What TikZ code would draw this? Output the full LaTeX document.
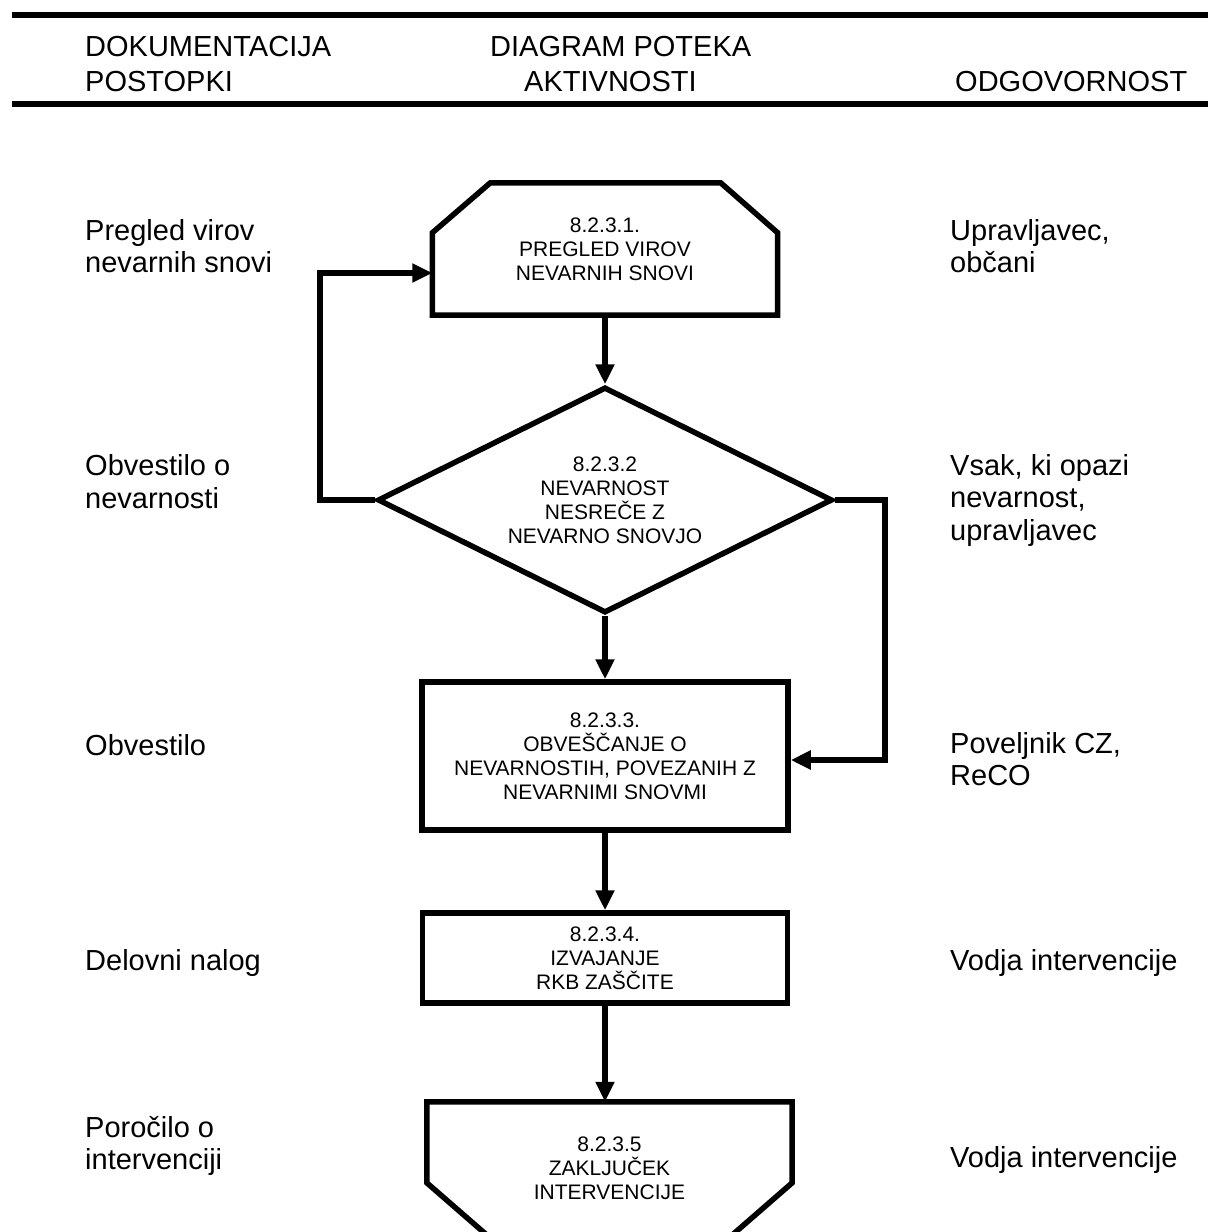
\documentclass[tikz,border=0pt]{standalone}
\usepackage{fontspec}
\setmainfont{Liberation Sans}
\usetikzlibrary{arrows.meta,shapes.geometric,calc}
\begin{document}
\begin{tikzpicture}[x=1pt,y=-1pt,
  shapeline/.style={line width=5.5pt, line join=miter},
  flow/.style={line width=5.5pt, line join=miter, -{Triangle[length=20pt,width=18pt]}},
  rule/.style={line width=6.5pt},
  lbl/.style={anchor=west, align=left, font=\fontsize{29}{32.5}\selectfont, inner sep=0pt},
  hdr/.style={anchor=west, align=left, font=\fontsize{29}{35}\selectfont, inner sep=0pt},
  inner/.style={align=center, font=\fontsize{21}{24}\selectfont, inner sep=0pt},
  ]
\clip (0,0) rectangle (1208,1232);
\fill[white] (0,0) rectangle (1208,1232);

% rules
\draw[rule] (12,15) -- (1208,15);
\draw[rule] (12,104) -- (1208,104);

% headers
\node[hdr] (h1) at (85,64) {DOKUMENTACIJA\\POSTOPKI};
\node[hdr] (h2) at (490,64) {DIAGRAM POTEKA\\\hspace{34pt}AKTIVNOSTI};
\node[hdr] (h3) at (955,82) {ODGOVORNOST};

% left labels
\node[lbl] (l1) at (85,246) {Pregled virov\\nevarnih snovi};
\node[lbl] (l2) at (85,481.5) {Obvestilo o\\nevarnosti};
\node[lbl] (l3) at (85,745) {Obvestilo};
\node[lbl] (l4) at (85,963) {Delovni nalog};
\node[lbl] (l5) at (85,1146) {Poročilo o\\intervenciji};

% right labels
\node[lbl] (r1) at (950,246) {Upravljavec,\\občani};
\node[lbl] (r2) at (950,500) {Vsak, ki opazi\\nevarnost,\\upravljavec};
\node[lbl] (r3) at (950,759) {Poveljnik CZ,\\ReCO};
\node[lbl] (r4) at (950,963) {Vodja intervencije};
\node[lbl] (r5) at (950,1160) {Vodja intervencije};

% shape 1 (chamfered top)
\node[inner, minimum width=345pt, minimum height=132pt] (n1) at (605,249)
  {8.2.3.1.\\PREGLED VIROV\\NEVARNIH SNOVI};
\draw[shapeline] (n1.south west) -- ($(n1.north west)+(0,50)$) -- ($(n1.north west)+(58,0)$)
  -- ($(n1.north east)+(-57,0)$) -- ($(n1.north east)+(0,50)$) -- (n1.south east) -- cycle;

% decision
\node[inner, diamond, draw, shapeline, minimum width=455pt, minimum height=226pt, aspect=2] (d) at (605,500)
  {8.2.3.2\\NEVARNOST\\NESREČE Z\\NEVARNO SNOVJO};

% box 3
\node[inner, draw, shapeline, minimum width=366pt, minimum height=148pt] (b3) at (605,756)
  {8.2.3.3.\\OBVEŠČANJE O\\NEVARNOSTIH, POVEZANIH Z\\NEVARNIMI SNOVMI};

% box 4
\node[inner, draw, shapeline, minimum width=365pt, minimum height=90pt] (b4) at (605,958)
  {8.2.3.4.\\IZVAJANJE\\RKB ZAŠČITE};

% shape 5 (pointing down, cut by page)
\node[inner, minimum width=365pt, minimum height=132pt] (b5) at (609.5,1168)
  {8.2.3.5\\ZAKLJUČEK\\INTERVENCIJE};
\draw[shapeline] (b5.north west) -- ($(b5.north west)+(0,81)$) -- ($(b5.north)+(0,240)$)
  -- ($(b5.north east)+(0,81)$) -- (b5.north east) -- cycle;

% connectors
\coordinate (lp) at (320,273);
\coordinate (rp) at (885,760);
\draw[flow] (n1.south) -- (d.north);
\draw[flow] (d.south) -- (b3.north);
\draw[flow] (d.west) -| (lp) -- (lp -| n1.west);
\draw[flow] (d.east) -| (rp) -- (rp -| b3.east);
\draw[flow] (b3.south) -- (b4.north);
\draw[flow] (b4.south) -- (b4.south |- b5.north);
\end{tikzpicture}
\end{document}
